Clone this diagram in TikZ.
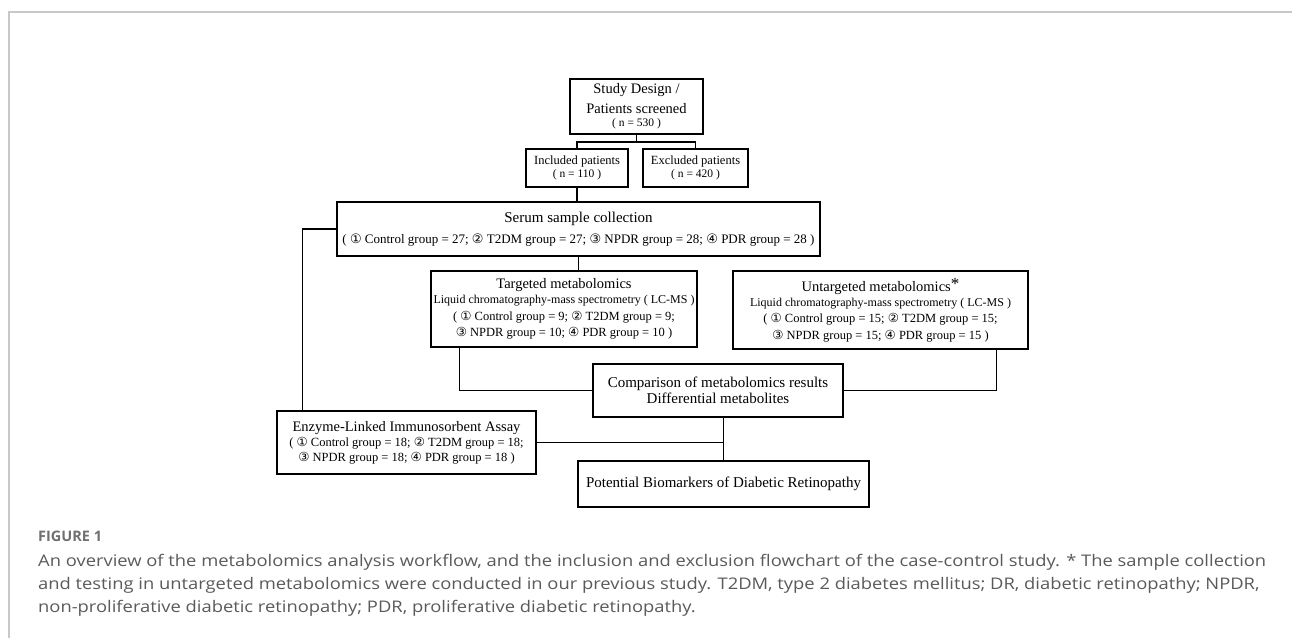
\documentclass[tikz,border=0pt]{standalone}
\usepackage{fontspec}
\usepackage{graphicx}
\setmainfont{Liberation Serif}
\newfontfamily\symf{DejaVu Sans}
\newfontfamily\capf{Open Sans}
\newcommand\cdg[1]{{\symf #1}}
\definecolor{framegray}{HTML}{C8C8C8}
\definecolor{captxt}{HTML}{5A5A5A}
\definecolor{figtxt}{HTML}{707070}
\newsavebox\capboxA
\begin{document}
\sbox\capboxA{\capf\fontsize{16}{18}\selectfont An overview of the metabolomics analysis workflow, and the inclusion and exclusion flowchart of the case-control study. * The sample collection}%
\pgfmathsetmacro\capsc{1228/\wd\capboxA}%
\begin{tikzpicture}[x=1pt,y=-1pt,
  box/.style={draw, line width=1.4pt, align=center, inner sep=0pt},
  link/.style={line width=1.1pt},
  captionline/.style={anchor=west, inner sep=0pt, text=captxt, font=\capf\fontsize{16}{18}\selectfont}]
\useasboundingbox (0,0) rectangle (1292,638);
\fill[white] (0,0) rectangle (1292,638);
\draw[framegray, line width=1.2pt] (9,638) -- (9,12) -- (1292,12);

% boxes
\node[box, minimum width=133pt, minimum height=55pt, font=\fontsize{14.5}{20}\selectfont] (study) at (636.5,106.5)
  {Study Design /\\Patients screened\\[-6.7pt]{\fontsize{11.5}{13}\selectfont ( n = 530 )}};
\node[box, minimum width=102pt, minimum height=38pt, font=\fontsize{12.5}{13.3}\selectfont] (incl) at (577,168)
  {Included patients\\{\fontsize{11.5}{13}\selectfont ( n = 110 )}};
\node[box, minimum width=105pt, minimum height=38pt, font=\fontsize{12.5}{13.3}\selectfont] (excl) at (695.5,168)
  {Excluded patients\\{\fontsize{11.5}{13}\selectfont ( n = 420 )}};
\node[box, minimum width=483pt, minimum height=54pt, font=\fontsize{15}{21}\selectfont] (serum) at (578.5,229)
  {Serum sample collection\\{\fontsize{13}{15}\selectfont ( \cdg{①} Control group = 27; \cdg{②} T2DM group = 27; \cdg{③} NPDR group = 28; \cdg{④} PDR group = 28 )}};
\node[box, minimum width=266pt, minimum height=76pt, font=\fontsize{14.5}{15}\selectfont] (targ) at (564,309)
  {Targeted metabolomics\\
   {\fontsize{12}{14}\selectfont Liquid chromatography-mass spectrometry ( LC-MS )}\\[1.5pt]
   {\fontsize{12.5}{14}\selectfont ( \cdg{①} Control group = 9; \cdg{②} T2DM group = 9;}\\[1.5pt]
   {\fontsize{12.5}{14}\selectfont \cdg{③} NPDR group = 10; \cdg{④} PDR group = 10 )}};
\node[box, minimum width=295pt, minimum height=78pt, font=\fontsize{14.5}{15}\selectfont] (untarg) at (880.5,310)
  {Untargeted metabolomics\raisebox{2pt}{\fontsize{17}{17}\selectfont *}\\
   {\fontsize{12}{14}\selectfont Liquid chromatography-mass spectrometry ( LC-MS )}\\[1.5pt]
   {\fontsize{12.5}{14}\selectfont ( \cdg{①} Control group = 15; \cdg{②} T2DM group = 15;}\\[1.5pt]
   {\fontsize{12.5}{14}\selectfont \cdg{③} NPDR group = 15; \cdg{④} PDR group = 15 )}};
\node[box, minimum width=250pt, minimum height=53pt, font=\fontsize{15}{16}\selectfont] (comp) at (718,390.5)
  {Comparison of metabolomics results\\Differential metabolites};
\node[box, minimum width=259pt, minimum height=63pt, font=\fontsize{14.5}{15}\selectfont] (elisa) at (406.5,442.5)
  {Enzyme-Linked Immunosorbent Assay\\
   {\fontsize{12.5}{14}\selectfont ( \cdg{①} Control group = 18; \cdg{②} T2DM group = 18;}\\
   {\fontsize{12.5}{14}\selectfont \cdg{③} NPDR group = 18; \cdg{④} PDR group = 18 )}};
\node[box, minimum width=291pt, minimum height=46pt, font=\fontsize{15}{16}\selectfont] (pot) at (723.5,484)
  {Potential Biomarkers of Diabetic Retinopathy};

% connectors
\coordinate (j1) at (636.5,142);
\draw[link] (study.south) -- (j1);
\draw[link] (incl.north) |- (j1) -| (excl.north);
\draw[link] (incl.south) -- (incl.south |- serum.north);
\draw[link] (serum.south) -- (serum.south |- targ.north);
\draw[link] (serum.west) -| ([xshift=26pt]elisa.north west);
\draw[link] ([xshift=29pt]targ.south west) |- (comp.west);
\draw[link] ([xshift=-32pt]untarg.south east) |- (comp.east);
\draw[link] (pot.north |- comp.south) -- (pot.north);
\draw[link] (elisa.east) -- (pot.north |- elisa.east);

% caption
\node[anchor=west, inner sep=0pt, text=figtxt, font=\capf\bfseries\fontsize{14.5}{16}\selectfont] (fig) at (38,536) {FIGURE 1};
\node[captionline] (cap1) at (38,562) {\scalebox{\capsc}[1]{An overview of the metabolomics analysis workflow, and the inclusion and exclusion flowchart of the case-control study. * The sample collection}};
\node[captionline] (cap2) at (38,585) {\scalebox{\capsc}[1]{and testing in untargeted metabolomics were conducted in our previous study. T2DM, type 2 diabetes mellitus; DR, diabetic retinopathy; NPDR,}};
\node[captionline] (cap3) at (38,608) {\scalebox{\capsc}[1]{non-proliferative diabetic retinopathy; PDR, proliferative diabetic retinopathy.}};
\end{tikzpicture}
\end{document}
